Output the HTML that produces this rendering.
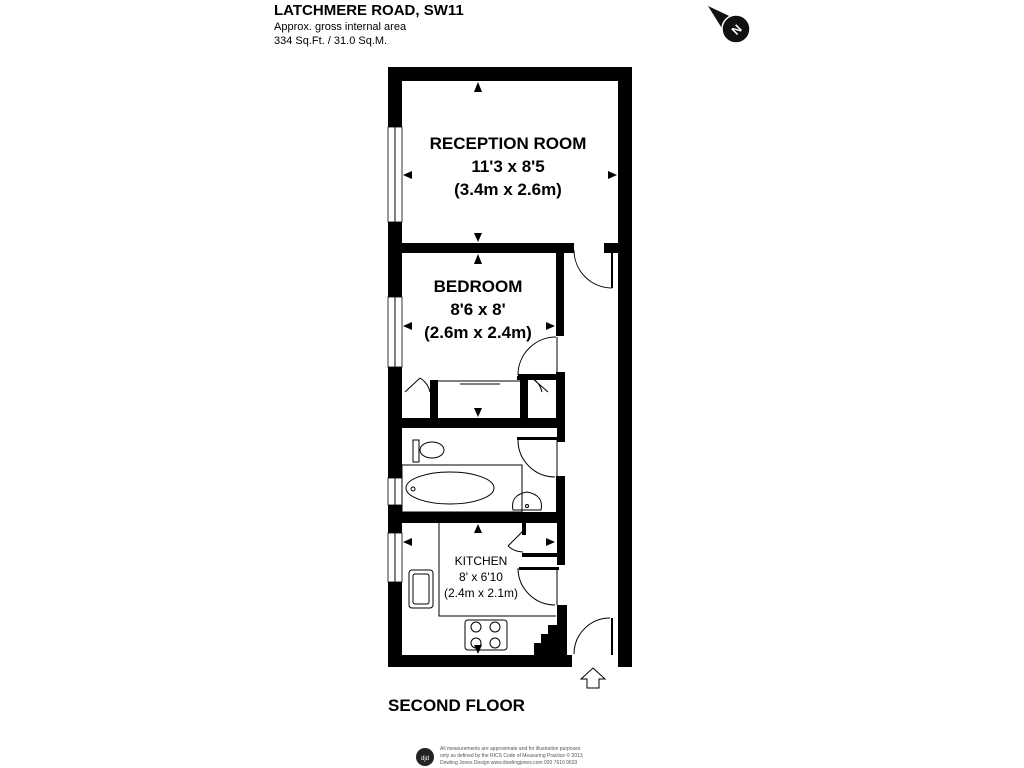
<!DOCTYPE html>
<html><head><meta charset="utf-8"><style>
body{margin:0;background:#fff;width:1024px;height:768px;overflow:hidden}
svg{display:block}
text{font-family:"Liberation Sans",sans-serif}
</style></head><body>
<svg width="1024" height="768" viewBox="0 0 1024 768">
<text x="274" y="15" font-size="15" font-weight="bold">LATCHMERE ROAD, SW11</text>
<text x="274" y="30" font-size="11">Approx. gross internal area</text>
<text x="274" y="44" font-size="11">334 Sq.Ft. / 31.0 Sq.M.</text>
<polygon points="708,6 742,22 728,38" fill="#111"/>
<circle cx="736" cy="29" r="14" fill="#111" stroke="#fff" stroke-width="1.5"/>
<text x="736" y="34" font-size="12" fill="#fff" text-anchor="middle" font-weight="bold" transform="rotate(-45 736 29)">N</text>

<g fill="#000">
<rect x="388" y="67" width="244" height="14"/>
<rect x="388" y="67" width="14" height="600"/>
<rect x="618" y="67" width="14" height="600"/>
<rect x="388" y="655" width="184" height="12"/>
<rect x="402" y="243" width="172" height="10"/>
<rect x="556" y="243" width="8" height="93"/>
<rect x="604" y="243" width="14" height="10"/>
<rect x="402" y="418" width="163" height="10"/>
<rect x="430" y="380" width="8" height="40"/>
<rect x="520" y="380" width="8" height="40"/>
<rect x="556" y="372" width="9" height="56"/>
<rect x="517" y="376" width="40" height="4"/>
<rect x="557" y="428" width="8" height="14"/>
<rect x="517" y="437" width="40" height="3"/>
<rect x="556" y="476" width="9" height="36"/>
<rect x="402" y="512" width="163" height="11"/>
<rect x="557" y="523" width="8" height="42"/>
<rect x="522" y="553" width="35" height="4"/>
<rect x="522" y="523" width="4" height="12"/>
<rect x="557" y="605" width="10" height="50"/>
<rect x="519" y="567" width="40" height="3"/>
<polygon points="534,655 534,643 541,643 541,634 548,634 548,625 557,625 557,605 567,605 567,655"/>
</g>
<g fill="#fff" stroke="#000" stroke-width="0.8">
<rect x="388" y="127" width="14" height="95"/>
<rect x="388" y="297" width="14" height="70"/>
<rect x="388" y="478" width="14" height="27"/>
<rect x="388" y="533" width="14" height="49"/>
<rect x="572" y="655" width="46" height="12" stroke="none"/>
</g>
<g fill="none" stroke="#000" stroke-width="1">
<line x1="395" y1="127" x2="395" y2="222"/><line x1="395" y1="297" x2="395" y2="367"/>
<line x1="395" y1="478" x2="395" y2="505"/><line x1="395" y1="533" x2="395" y2="582"/>
<path d="M574 250 A38 38 0 0 0 612 288"/><line x1="612" y1="250" x2="612" y2="288" stroke-width="2"/>
<path d="M518 375 A38 38 0 0 1 556 337"/><line x1="518" y1="375" x2="556" y2="375" stroke-width="2"/>
<line x1="557" y1="337" x2="557" y2="375"/>
<path d="M518 440 A37 37 0 0 0 555 477"/>
<line x1="557" y1="440" x2="557" y2="476"/>
<path d="M518 568 A37 37 0 0 0 555 605"/>
<line x1="557" y1="568" x2="557" y2="605"/>
<path d="M574 654 A36 36 0 0 1 610 618"/><line x1="612" y1="618" x2="612" y2="655" stroke-width="2"/>
<path d="M508 546 L523 531 M508 546 A22 22 0 0 0 523 552"/>
<path d="M405 392 L420 378 M430 392 A22 22 0 0 0 420 378"/>
<path d="M532 378 L548 392 M532 378 A22 22 0 0 1 542 392"/>
<line x1="438" y1="381" x2="520" y2="381"/>
<line x1="460" y1="384" x2="500" y2="384"/>
<rect x="402" y="465" width="120" height="47"/>
<ellipse cx="450" cy="488" rx="44" ry="16"/>
<circle cx="413" cy="489" r="2"/>
<ellipse cx="432" cy="450" rx="12" ry="8"/>
<rect x="413" y="440" width="6" height="22"/>
<path d="M513 510 Q510 495 527 492 Q544 495 541 510 Z"/>
<circle cx="527" cy="506" r="1.5"/>
<polyline points="439,523 439,616 556,616"/>
<rect x="409" y="570" width="24" height="38" rx="3"/>
<rect x="413" y="574" width="16" height="30" rx="2"/>
<rect x="465" y="620" width="42" height="30" rx="3"/>
<circle cx="476" cy="627" r="5"/><circle cx="495" cy="627" r="5"/>
<circle cx="476" cy="643" r="5"/><circle cx="495" cy="643" r="5"/>
<polygon points="593,668 605,679 599,679 599,688 587,688 587,679 581,679"/>
</g>
<g fill="#000">
<polygon points="474,92 482,92 478,82"/>
<polygon points="474,233 482,233 478,242"/>
<polygon points="474,264 482,264 478,254"/>
<polygon points="474,408 482,408 478,417"/>
<polygon points="474,533 482,533 478,524"/>
<polygon points="474,645 482,645 478,654"/>
<polygon points="412,171 412,179 403,175"/>
<polygon points="608,171 608,179 617,175"/>
<polygon points="412,322 412,330 403,326"/>
<polygon points="546,322 546,330 555,326"/>
<polygon points="412,538 412,546 403,542"/>
<polygon points="546,538 546,546 555,542"/>
</g>
<g font-weight="bold" text-anchor="middle">
<text x="508" y="149" font-size="17">RECEPTION ROOM</text>
<text x="508" y="172" font-size="17">11'3 x 8'5</text>
<text x="508" y="195" font-size="17">(3.4m x 2.6m)</text>
<text x="478" y="292" font-size="17">BEDROOM</text>
<text x="478" y="315" font-size="17">8'6 x 8'</text>
<text x="478" y="338" font-size="17">(2.6m x 2.4m)</text>
</g>
<g text-anchor="middle" font-size="12">
<text x="481" y="565">KITCHEN</text>
<text x="481" y="581">8' x 6'10</text>
<text x="481" y="597">(2.4m x 2.1m)</text>
</g>
<text x="388" y="711" font-size="17" font-weight="bold">SECOND FLOOR</text>
<circle cx="425" cy="757" r="9" fill="#222"/>
<text x="425" y="760" font-size="6" fill="#fff" text-anchor="middle">djd</text>
<g font-size="5" fill="#555">
<text x="440" y="750">All measurements are approximate and for illustration purposes</text>
<text x="440" y="757">only as defined by the RICS Code of Measuring Practice © 2013</text>
<text x="440" y="764">Dowling Jones Design www.dowlingjones.com 020 7610 9633</text>
</g>
</svg>
</body></html>
